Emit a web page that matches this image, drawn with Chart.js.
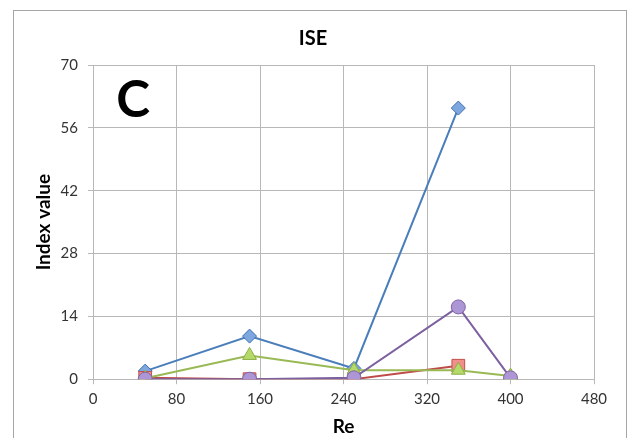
<!DOCTYPE html>
<html>
<head>
<meta charset="utf-8">
<script src="https://cdn.jsdelivr.net/npm/chart.js@4"></script>
<style>
  html, body { margin: 0; padding: 0; background: #fff; }
  #wrap { position: relative; width: 631px; height: 438px; }
</style>
</head>
<body>
<div id="wrap"><canvas id="ise-chart" width="631" height="438"></canvas></div>
<script>
// Re values and index values
const re = [50, 150, 250, 350, 400];
const series1 = [1.8, 9.6, 2.4, 60.4, null];   // blue diamonds
const series2 = [0.3, 0, 0, 3.0, null];        // red squares
const series3 = [0.2, 5.3, 2.0, 2.0, 0.7];     // green triangles
const series4 = [0, 0, 0.3, 16.1, 0.3];        // purple circles
const xTicks = [0, 80, 160, 240, 320, 400, 480];
const yTicks = [0, 14, 28, 42, 56, 70];

const toPoints = (vals) => re.map((x, i) => ({ x: x, y: vals[i] }));

const FONT = 'Lato, "Open Sans", sans-serif';

// grey frame around the whole chart plus the big panel letter
const decor = {
  id: 'decor',
  beforeDraw(chart) {
    const c = chart.ctx;
    c.save();
    c.strokeStyle = '#a6a6a6';
    c.lineWidth = 1;
    c.strokeRect(13.5, 10.5, 613, 440);
    c.restore();
  },
  afterDatasetsDraw(chart) {
    const c = chart.ctx;
    c.save();
    c.fillStyle = '#000';
    c.font = 'bold 51px Lato, sans-serif';
    c.textAlign = 'center';
    c.textBaseline = 'middle';
    c.fillText('C', 133, 101);
    c.restore();
  }
};

const ctx = document.getElementById('ise-chart').getContext('2d');
const chart = new Chart(ctx, {
  type: 'line',
  data: {
    datasets: [
      {
        label: 'Series 1',
        data: toPoints(series1),
        borderColor: '#4a7ebb',
        backgroundColor: '#7ea7e0',
        pointBorderColor: '#3f6fb0',
        pointStyle: 'rectRot',
        pointRadius: 7,
        order: 4
      },
      {
        label: 'Series 2',
        data: toPoints(series2),
        borderColor: '#be4b48',
        backgroundColor: '#f28e8b',
        pointBorderColor: '#c0504d',
        pointStyle: 'rect',
        pointRadius: 9,
        order: 3
      },
      {
        label: 'Series 3',
        data: toPoints(series3),
        borderColor: '#98b954',
        backgroundColor: '#b6d96b',
        pointBorderColor: '#8cb044',
        pointStyle: 'triangle',
        pointRadius: 8,
        order: 2
      },
      {
        label: 'Series 4',
        data: toPoints(series4),
        borderColor: '#7d60a0',
        backgroundColor: '#ad96d6',
        pointBorderColor: '#8064a2',
        pointStyle: 'circle',
        pointRadius: 7,
        order: 1
      }
    ]
  },
  options: {
    responsive: false,
    animation: false,
    layout: { padding: { left: 32, right: 37, top: 27, bottom: 0 } },
    elements: {
      line: { borderWidth: 2, tension: 0, fill: false },
      point: { borderWidth: 1 }
    },
    plugins: {
      legend: { display: false },
      tooltip: { enabled: false },
      title: {
        display: true,
        text: 'ISE',
        color: '#000',
        font: { family: FONT, size: 20, weight: 'bold' },
        padding: { top: 0, bottom: 14 }
      }
    },
    scales: {
      x: {
        type: 'linear',
        min: 0,
        max: 480,
        afterBuildTicks: (s) => { s.ticks = xTicks.map(v => ({ value: v })); },
        ticks: { color: '#333', font: { family: FONT, size: 15 }, padding: 6 },
        grid: { color: '#b8b8b8', tickLength: 5 },
        border: { color: '#b8b8b8' },
        title: {
          display: true,
          text: 'Re',
          color: '#000',
          font: { family: FONT, size: 19, weight: 'bold' },
          padding: { top: 1, bottom: 0 }
        }
      },
      y: {
        min: 0,
        max: 70,
        afterBuildTicks: (s) => { s.ticks = yTicks.map(v => ({ value: v })); },
        afterFit: (s) => { s.width = 61; },
        ticks: { color: '#333', font: { family: FONT, size: 15 }, padding: 10 },
        grid: { color: '#b8b8b8', tickLength: 5 },
        border: { color: '#b8b8b8' },
        title: {
          display: true,
          text: 'Index value',
          color: '#000',
          font: { family: FONT, size: 19, weight: 'bold' },
          padding: 0
        }
      }
    }
  },
  plugins: [decor]
});
</script>
</body>
</html>
